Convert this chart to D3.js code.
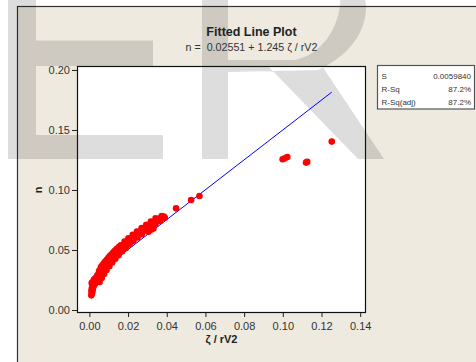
<!DOCTYPE html>
<html><head><meta charset="utf-8">
<script src="https://cdn.jsdelivr.net/npm/d3@7"></script>
<style>html,body{margin:0;padding:0;background:#fff;}svg{display:block;}</style>
</head><body>
<script>
// ---------- data ----------
const title = "Fitted Line Plot";
const subtitle = "n =  0.02551 + 1.245 ζ / rV2";
const xLabel = "ζ / rV2";
const yLabel = "n";
const fitIntercept = 0.02551;
const fitSlope = 1.245;
const xTicks = [0, 0.02, 0.04, 0.06, 0.08, 0.10, 0.12, 0.14];
const yTicks = [0, 0.05, 0.10, 0.15, 0.20];
const statLabels = ["S", "R-Sq", "R-Sq(adj)"];
const statValues = ["0.0059840", "87.2%", "87.2%"];

const tipPoints = [
  [0.0010,0.0122],[0.0013,0.0138],[0.0011,0.0155],[0.0015,0.0150],[0.0012,0.0172],
  [0.0017,0.0168],[0.0014,0.0188],[0.0019,0.0185],[0.0017,0.0205],[0.0022,0.0200],
  [0.0021,0.0222],[0.0026,0.0215],[0.0016,0.0230],[0.0024,0.0238],[0.0028,0.0232]
];
const bandCenter = [
  [0.0030,0.0220],[0.0035,0.0238],[0.0040,0.0252],[0.0046,0.0270],[0.0052,0.0288],
  [0.0058,0.0304],[0.0064,0.0320],[0.0071,0.0337],[0.0078,0.0353],[0.0085,0.0368],
  [0.0092,0.0384],[0.0100,0.0400],[0.0108,0.0415],[0.0116,0.0430],[0.0124,0.0446],
  [0.0133,0.0461],[0.0142,0.0476],[0.0151,0.0491],[0.0160,0.0506],[0.0170,0.0521],
  [0.0180,0.0536],[0.0190,0.0551],[0.0200,0.0566],[0.0210,0.0580],[0.0220,0.0594],
  [0.0231,0.0608],[0.0242,0.0622],[0.0253,0.0636],[0.0264,0.0650],[0.0276,0.0664],
  [0.0288,0.0678],[0.0300,0.0692],[0.0312,0.0706],[0.0324,0.0720],[0.0336,0.0733],
  [0.0348,0.0746],[0.0360,0.0759],[0.0372,0.0772]
];
const bandUpper = [
  [0.0012,0.0224],[0.0026,0.0256],[0.0042,0.0292],[0.0050,0.0324],[0.0060,0.0357],
  [0.0074,0.0388],[0.0090,0.0419],[0.0106,0.0450],[0.0124,0.0480],[0.0142,0.0510],
  [0.0162,0.0540],[0.0182,0.0570],[0.0202,0.0598],[0.0224,0.0626],[0.0246,0.0654],
  [0.0270,0.0682],[0.0294,0.0710],[0.0318,0.0737],[0.0342,0.0763]
];
const bandLower = [
  [0.0053,0.0234],[0.0064,0.0266],[0.0076,0.0300],[0.0089,0.0333],[0.0103,0.0364],
  [0.0118,0.0396],[0.0134,0.0426],[0.0151,0.0457],[0.0169,0.0487],[0.0188,0.0517],
  [0.0208,0.0547],[0.0228,0.0576],[0.0249,0.0604],[0.0271,0.0632],[0.0294,0.0660],
  [0.0318,0.0688],[0.0342,0.0716],[0.0366,0.0742],[0.0390,0.0768]
];
const bandFill = [
  [0.0022,0.0245],[0.0036,0.0272],[0.0050,0.0306],[0.0058,0.0340],[0.0067,0.0372],
  [0.0082,0.0404],[0.0098,0.0434],[0.0115,0.0465],[0.0133,0.0495],[0.0152,0.0525],
  [0.0045,0.0250],[0.0059,0.0283],[0.0070,0.0316],[0.0082,0.0350],[0.0096,0.0380],
  [0.0110,0.0412],[0.0126,0.0441],[0.0142,0.0472],[0.0160,0.0502]
];
const bandExtra = [
  [0.0305,0.0653],[0.0331,0.0680],[0.0318,0.0668],
  [0.0374,0.0783],[0.0385,0.0778],[0.0380,0.0770]
];
const outlierPoints = [
  [0.0448,0.0847],[0.0526,0.0917],[0.0569,0.0950],
  [0.0999,0.1256],[0.1010,0.1264],[0.1023,0.1275],
  [0.1120,0.1228],[0.1126,0.1234],[0.1253,0.1403]
];
const points = [...tipPoints, ...bandCenter, ...bandUpper, ...bandLower, ...bandFill, ...bandExtra, ...outlierPoints];

// ---------- layout ----------
const W = 476, H = 362;
const plot = {left: 77, top: 66, right: 366, bottom: 313};
const font = "'Liberation Sans', Arial, sans-serif";

const svg = d3.select("body").append("svg").attr("width", W).attr("height", H);

// frame
svg.append("rect").attr("x", 17.5).attr("y", 6.5).attr("width", W).attr("height", H)
  .attr("fill", "#EEEAE0").attr("stroke", "#333").attr("stroke-width", 1.2);

const x = d3.scaleLinear().domain([-0.0064, 0.143]).range([plot.left, plot.right]);
const y = d3.scaleLinear().domain([-0.0025, 0.2033]).range([plot.bottom, plot.top]);

// plot area
svg.append("rect").attr("x", plot.left).attr("y", plot.top)
  .attr("width", plot.right - plot.left).attr("height", plot.bottom - plot.top)
  .attr("fill", "#fff");

// watermark (decoration)
const wm = svg.append("g").attr("fill", "#000").attr("fill-opacity", 0.135);
wm.append("path").attr("d",
  "M8,-10 H36 V159 H8 Z M36,40.5 H153 V66 H36 Z M36,135 H163 V159 H36 Z");
wm.append("path").attr("fill-rule", "evenodd").attr("d",
  "M202,-20 H228 V159 H202 Z " +
  "M228,-30 H312 C348,-30 368,-10 366,10 C364,38 344,58 318,70 L228,72 Z " +
  "M228,-30 H305 C330,-30 342,-12 340,4 C338,30 320,55 295,60 L228,60 Z " +
  "M268,66 L322,66 L384,159 L358,159 Z");

// plot border
svg.append("rect").attr("x", plot.left + 0.5).attr("y", plot.top + 0.5)
  .attr("width", plot.right - plot.left - 1).attr("height", plot.bottom - plot.top - 1)
  .attr("fill", "none").attr("stroke", "#111").attr("stroke-width", 1.2);

// axes
const xAxis = d3.axisBottom(x).tickValues(xTicks).tickFormat(d3.format(".2f")).tickSize(4).tickPadding(5);
const yAxis = d3.axisLeft(y).tickValues(yTicks).tickFormat(d3.format(".2f")).tickSize(5).tickPadding(2);
const gx = svg.append("g").attr("transform", `translate(0,${plot.bottom})`).call(xAxis);
const gy = svg.append("g").attr("transform", `translate(${plot.left},0)`).call(yAxis);
[gx, gy].forEach(g => {
  g.select(".domain").remove();
  g.selectAll("line").attr("stroke", "#222");
  g.selectAll("text").attr("fill", "#333").style("font-family", font).style("font-size", "11px");
});

// fitted line
const xe = d3.extent(points, d => d[0]);
svg.append("line")
  .attr("x1", x(xe[0])).attr("y1", y(fitIntercept + fitSlope * xe[0]))
  .attr("x2", x(xe[1])).attr("y2", y(fitIntercept + fitSlope * xe[1]))
  .attr("stroke", "#0000FF").attr("stroke-width", 1);

// points
svg.append("g").selectAll("circle").data(points).join("circle")
  .attr("cx", d => x(d[0])).attr("cy", d => y(d[1])).attr("r", 3.3).attr("fill", "#FF0000");

// titles
svg.append("text").attr("x", 251.5).attr("y", 36).attr("text-anchor", "middle")
  .style("font-family", font).style("font-size", "12.5px").style("font-weight", "bold")
  .attr("fill", "#222").text(title);
svg.append("text").attr("x", 251.5).attr("y", 51).attr("text-anchor", "middle")
  .style("white-space", "pre")
  .style("font-family", font).style("font-size", "10.7px").attr("fill", "#333").text(subtitle);

svg.append("text").attr("x", (plot.left + plot.right) / 2).attr("y", 343).attr("text-anchor", "middle")
  .style("font-family", font).style("font-size", "11px").style("font-weight", "bold")
  .attr("fill", "#222").text(xLabel);
svg.append("text").attr("transform", `translate(41.5,${(y(0.1))}) rotate(-90)`).attr("text-anchor", "middle")
  .style("font-family", font).style("font-size", "11px").style("font-weight", "bold")
  .attr("fill", "#222").text(yLabel);

// stats box
const box = svg.append("g");
box.append("rect").attr("x", 377.5).attr("y", 65.5).attr("width", 97).attr("height", 43.5)
  .attr("fill", "#fff").attr("stroke", "#555").attr("stroke-width", 1.2);
statLabels.forEach((s, i) => {
  box.append("text").attr("x", 381.5).attr("y", 78.5 + i * 13)
    .style("font-family", font).style("font-size", "8px").attr("fill", "#333").text(s);
  box.append("text").attr("x", 471).attr("y", 78.5 + i * 13).attr("text-anchor", "end")
    .style("font-family", font).style("font-size", "8px").attr("fill", "#333").text(statValues[i]);
});
</script>
</body></html>
